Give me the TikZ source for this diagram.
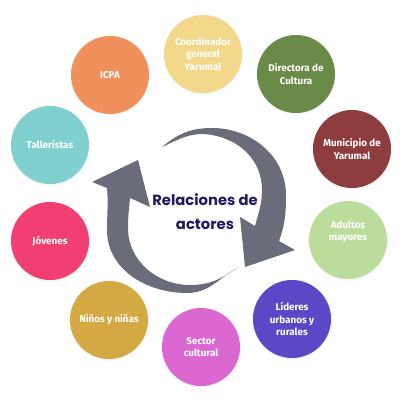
\documentclass[tikz,border=0pt]{standalone}
\usepackage{fontspec}
\setmainfont{Fira Sans}
\newfontfamily\titlefont{Poppins}
\usetikzlibrary{shadows}

\definecolor{icpa}{HTML}{F0905C}
\definecolor{coord}{HTML}{F3D88C}
\definecolor{directora}{HTML}{6A8A48}
\definecolor{municipio}{HTML}{8E3D3F}
\definecolor{adultos}{HTML}{BADD9C}
\definecolor{lideres}{HTML}{5A48C6}
\definecolor{sector}{HTML}{DA68D0}
\definecolor{ninos}{HTML}{D4A843}
\definecolor{jovenes}{HTML}{F03F70}
\definecolor{talleristas}{HTML}{80D0D0}
\definecolor{arrowgray}{HTML}{6B6C7A}
\definecolor{titleblue}{HTML}{21185F}

\begin{document}
\begin{tikzpicture}[x=0.025cm, y=0.025cm,
  actor/.style={circle, minimum size=1.95cm, inner sep=0pt, text=white,
    align=center, font=\fontsize{7}{9}\selectfont\bfseries,
    circular drop shadow={opacity=0.15, shadow xshift=0pt,
      shadow yshift=-0.6pt, shadow scale=1.05}}]
  \useasboundingbox (0,0) rectangle (400,400);

  % actores alrededor
  \node[actor, fill=icpa, name=icpa] at (110,325) {ICPA};
  \node[actor, fill=coord, name=coord] at (203,346) {Coordinador\\general\\Yarumal};
  \node[actor, fill=directora, name=directora] at (296,326) {Directora de\\Cultura};
  \node[actor, fill=municipio, name=municipio] at (352,251) {Municipio de\\Yarumal};
  \node[actor, fill=adultos, name=adultos] at (348,160) {Adultos\\mayores\\[4pt]};
  \node[actor, fill=lideres, name=lideres] at (292,81) {Líderes\\urbanos y\\rurales};
  \node[actor, fill=sector, name=sector] at (201,53) {Sector\\cultural};
  \node[actor, fill=ninos, name=ninos] at (109,80) {Niños y niñas};
  \node[actor, fill=jovenes, name=jovenes] at (50,159) {Jóvenes};
  \node[actor, fill=talleristas, name=talleristas] at (50,255) {Talleristas};

  % flechas del ciclo
  \begin{scope}[arrowgray]
    \fill (162,253) to[out=40,in=180] (212,272) to[out=0,in=90] (286,205)
      to[out=-90,in=70] (279,159) -- (295,150) -- (245,133) -- (240,183)
      -- (255,174) to[out=75,in=-90] (262,210) to[out=90,in=-10] (212,265)
      to[out=170,in=25] (162,253) -- cycle;
    \fill (237,132) to[out=-150,in=0] (187,107) to[out=180,in=-90] (107,170)
      to[out=90,in=-85] (107,212) -- (92,218) -- (138,240) -- (150,193)
      -- (130,202) to[out=-95,in=90] (128,172) to[out=-90,in=180] (190,115)
      to[out=0,in=-145] (237,132) -- cycle;
  \end{scope}

  \node[name=title, align=center, text=titleblue,
    font=\titlefont\fontsize{10.5}{17}\selectfont\bfseries] at (205,188) {Relaciones de\\actores};
\end{tikzpicture}
\end{document}
